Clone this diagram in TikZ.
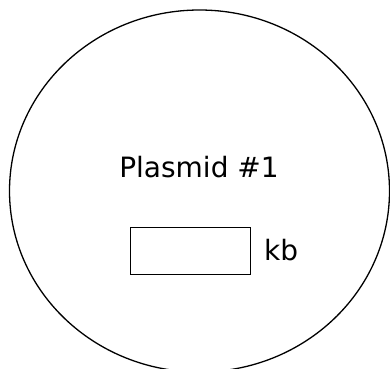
\documentclass[tikz,border=0pt]{standalone}
\usepackage{fontspec}
\setmainfont{DejaVu Sans}
\usepackage{tikz}
\usetikzlibrary{positioning,shapes.geometric}

\begin{document}
\begin{tikzpicture}[x=1pt,y=1pt,node distance=11pt,line width=1.3pt,
  font=\fontsize{28}{33}\selectfont]
\useasboundingbox (0,0) rectangle (390,368);

% outer ring
\node[ellipse,draw,name=plasmid,minimum width=380pt,minimum height=362pt,inner sep=0pt] at (199.5,177) {};

% label and size box
\node[name=title,anchor=base] at (199,191) {Plasmid \#1};
\node[draw,name=sizebox,minimum width=120pt,minimum height=47pt,inner sep=0pt,line width=1pt] at (190,117.5) {};
\node[name=kb,right=of sizebox,inner sep=2pt] {kb};

\end{tikzpicture}
\end{document}
